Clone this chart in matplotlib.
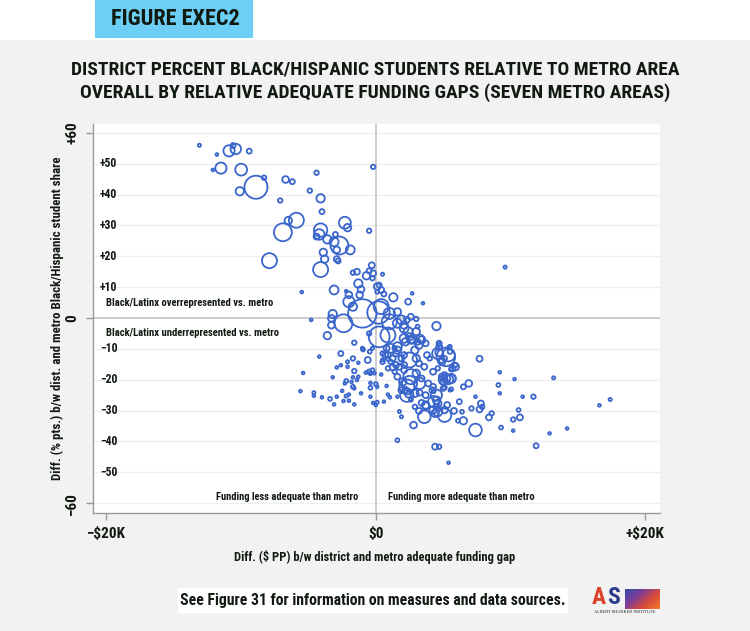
import numpy as np
import matplotlib
matplotlib.use("Agg")
import matplotlib.pyplot as plt
from matplotlib import font_manager
from matplotlib.patches import Rectangle

names = {f.name for f in font_manager.fontManager.ttflist}
FAM = None
for cand in ["Liberation Sans Narrow", "Roboto Condensed", "Open Sans Condensed", "Liberation Sans"]:
    if cand in names:
        FAM = cand
        break
FONT = [FAM, "DejaVu Sans"] if FAM else ["DejaVu Sans"]
plt.rcParams["font.family"] = FONT

# ---- data: (gap in $K per pupil, diff in % pts, enrollment weight) ----
gap_k = [
    -13.1, -10.9, -10.6, -10.4, -11.8, -9.4, -11.5, -12.1, -10.0, -8.9, -8.3, -10.1, -6.7, -6.2, -4.4, -4.9,
    -4.1, -7.1, -4.0, -5.9, -6.5, -6.9, -4.1, -4.2, -4.4, -3.6, -3.0, -2.3, -2.1, -2.7, -3.1, -2.9, -1.9, -3.9,
    -3.8, -2.9, -2.8, -7.9, -4.1, -0.2, -0.5, -5.5, -4.8, -3.1,
    -0.3, -0.7, -0.2, 0.5, -1.4, -1.7, -1.3, -1.1, -1.2, -2.0, -2.2, 0.1, 0.25, 0.4, 0.6, -2.0, -1.0, 0.2,
    -2.4, -1.7, -3.2, -3.3, -3.3, -0.5, -0.25, 0.1, 1.3, 2.7, 2.4, 3.5, 0.4, 1.0, 1.6, 1.0, 1.6, 0.25, 0.9,
    -0.5, 2.1, 2.3, 2.6, 2.4, 3.0, 3.0, 3.1, 3.3, 2.6, 2.1, 1.6, 3.2, 3.7, -3.6, -1.6, -1.0, -0.25,
    -4.2, -5.4, -5.6, -4.6, -4.6, -4.0, -3.4, -3.1, -2.9, -2.4, -2.5, -2.2, -2.0, -2.0, -1.6, -3.2, -2.6,
    -2.9, -2.6, -2.1, -2.1, -1.7, -1.3, -0.95, -0.6, -0.45, -1.6, -1.3, -1.7, -1.4, -2.2, -2.3, -1.8, -1.7,
    -1.6, -1.1, -0.5, -0.25, -0.4, -0.75, -0.1, -0.4, -0.4, 0.0, 0.1, -0.4, -0.2, 0.1, 0.0, 0.6, 0.8, 0.9,
    1.05, 1.6, 1.75, 1.9, 1.6, 0.4, 0.5, 0.5, 0.9, 1.5, 1.1, 1.5, 0.8, 1.4, 2.1, 2.1, 2.5, 2.2, 2.4, 2.8, 2.6,
    4.5, 4.7, 5.5, 5.4, 4.7, 4.9, 5.1, 5.7, 5.9, 7.7, 9.2, 10.3, 9.1, 9.2, 6.9, 6.5, 5.6, 5.4, 5.6, 5.0, 5.1,
    5.0, 4.3, 7.4, 7.8, 7.9, 7.7, 6.2, 7.1, 6.4, 5.8, 5.1, 5.1, 4.5, 4.5, 4.4, 3.6, 3.7, 8.6, 8.4, 6.5, 7.4,
    9.3, 10.6, 10.2, 10.7, 13.2, 11.7, 10.9, 10.2, 11.9, 12.9, 6.1, 4.4, 4.7, 16.6, 17.4, 14.2, 9.6, 5.4,
    1.9, 2.1, 2.5, 2.2, 2.75, 3.1, 3.4, 2.9, 1.1, 1.6, 1.9, 1.25, 0.9, 0.7, 0.5, 0.9, 1.25, 1.75, 2.1, 2.5,
    3.0, 3.2, 3.6, 3.8, 4.0, 4.6, 5.2, 4.9, 4.7, 4.7, 5.4, 5.5, 5.9, 5.6, 4.6, 4.25, 4.9, 5.2, 5.6, 5.0, 5.1,
    5.5, 4.25, 3.9, 3.4, 3.0, 2.6, 3.25, 2.3, 2.0, 1.6, 1.4, 1.9, 2.3, 2.9, 3.25, 3.7, 4.2, 4.5, 4.3, 4.6,
    4.6, 4.25, 5.3, 3.7, 3.4, 3.2, 2.9,
]
share_diff = [
    56.0, 54.2, 55.9, 54.8, 53.0, 54.1, 48.6, 48.0, 48.1, 42.4, 45.5, 41.1, 44.9, 44.2, 47.1, 41.3,
    38.8, 38.1, 34.5, 31.7, 31.6, 27.8, 28.5, 27.1, 26.4, 25.5, 27.1, 30.9, 29.3, 23.5, 24.7, 22.1, 22.1, 21.3,
    19.1, 19.1, 18.5, 18.6, 15.7, 49.0, 28.3, 8.4, -0.6, 9.1,
    17.1, 13.7, 14.5, 14.2, 15.0, 14.7, 11.2, 9.3, 7.5, 7.5, 8.7, 10.2, 10.7, 9.1, 7.8, 5.3, 1.5, 1.8,
    -1.7, 3.7, 1.3, -0.1, -2.3, 15.3, 12.9, 8.5, 6.7, 8.0, 5.3, 4.8, 3.7, 1.5, 2.0, -1.2, -1.7, -6.1, -5.5,
    -5.0, -2.3, -0.6, 0.4, -4.4, -4.4, -0.3, -2.8, -6.6, -7.1, -6.6, -9.3, -8.8, -8.2, -5.7, -8.0, -9.8, -9.8,
    -12.5, -17.8, -23.7, -24.2, -25.2, -25.7, -26.2, -28.0, -25.5, -26.9, -23.6, -25.3, -24.8, -26.8, -28.0, -19.2, -11.5,
    -16.0, -15.3, -14.2, -15.8, -13.1, -14.5, -10.2, -13.6, -10.9, -17.2, -19.0, -19.2, -20.1, -20.4, -21.2, -20.7, -22.3,
    -22.8, -24.4, -17.4, -16.9, -17.9, -17.7, -17.9, -21.0, -22.6, -21.4, -22.3, -25.5, -27.5, -27.3, -28.2, -27.1, -22.0, -24.8,
    -25.7, -25.5, -30.3, -32.0, -39.6, -18.3, -13.6, -11.5, -12.0, -11.5, -14.2, -15.2, -9.8, -9.8, -12.0, -15.2, -21.2, -23.3, -24.8, -34.7, -26.5,
    -2.6, -8.2, -9.3, -12.0, -11.2, -14.2, -13.1, -16.3, -15.2, -13.2, -17.6, -19.8, -21.7, -24.4, -21.2, -22.3, -23.1, -19.9, -19.6, -20.1, -18.5,
    -22.8, -23.7, -25.5, -27.7, -28.8, -29.6, -27.1, -29.3, -30.4, -30.1, -29.8, -31.5, -26.6, -28.8, -30.9, -32.0, -28.5, -30.9, -32.2, -33.3, -36.3,
    -35.5, -29.8, -32.9, -32.2, -19.4, -25.5, -25.5, -36.5, -41.4, -37.4, -33.3, -41.7, -41.7, -28.3, -26.4, -35.8, 16.5, -46.9,
    -0.6, -3.3, -6.1, -7.7, -7.1, -7.7, -7.1, -10.4, -9.8, -10.4, -13.1, -13.1, -13.1, -12.0, -14.2, -16.3, -16.0, -15.8, -16.9, -13.6,
    -13.1, -14.7, -15.8, -12.0, -13.1, -11.5, -12.6, -13.6, -9.3, -8.4, -9.5, -10.9, -15.8, -16.6, -16.3, -17.4, -19.0, -19.6, -19.6, -20.7, -22.5,
    -23.4, -22.3, -21.2, -19.6, -17.9, -19.0, -21.2, -22.3, -20.7, -19.0, -17.4, -23.4, -25.0, -24.4, -24.2, -25.0, -23.4, -25.0, -27.1, -27.7,
    -30.4, -29.8, -28.2, -28.2, -27.5, -30.1, -28.8,
]
enroll = [
    2, 25, 5, 22, 1.5, 5, 25, 1.5, 28, 106, 4, 14, 9, 5, 4, 4,
    14, 4, 5, 45, 11, 64, 36, 22, 7, 14, 5, 28, 11, 64, 16, 9, 16, 11,
    11, 7, 5, 45, 45, 4, 4, 1.5, 1.5, 16,
    7, 11, 7, 2, 7, 4, 14, 9, 9, 9, 1.5, 9, 5, 7, 5, 25, 161, 100,
    64, 14, 14, 9, 9, 5, 4, 3, 14, 1.5, 7, 1.5, 45, 25, 11, 45, 16, 86, 45,
    4, 11, 7, 7, 16, 11, 4, 3, 11, 11, 16, 16, 11, 7, 11, 4, 2, 2,
    1.5, 1.5, 1.5, 2, 1.5, 1.5, 3, 1.5, 1.5, 1.5, 1.5, 2, 1.5, 1.5, 1.5, 1.5, 5,
    1.5, 1.5, 2, 1.5, 4, 1.5, 3, 7, 3, 4, 1.5, 1.5, 1.5, 3, 1.5, 1.5, 3,
    1.5, 1.5, 4, 3, 3, 1.5, 1.5, 1.5, 3, 3, 1.5, 1.5, 1.5, 2, 1.5, 1.5, 1.5, 1.5,
    1.5, 1.5, 2, 2, 3, 1.5, 2, 4, 7, 7, 4, 7, 7, 4, 7, 7, 45, 7, 7, 9, 3,
    14, 5, 3, 32, 11, 9, 5, 7, 4, 7, 1.5, 1.5, 3, 1.5, 9, 5, 3, 18, 16, 16, 7,
    5, 3, 1.5, 7, 4, 7, 5, 4, 3, 7, 9, 36, 11, 7, 11, 32, 11, 4, 7, 11, 32,
    3, 3, 4, 7, 2, 4, 1.5, 1.5, 5, 1.5, 3, 7, 4, 1.5, 2, 1.5, 2, 1.5,
    16, 16, 11, 11, 11, 7, 11, 11, 16, 11, 7, 7, 4, 7, 4, 4, 7, 7, 7, 45,
    11, 7, 7, 7, 4, 25, 69, 7, 7, 4, 1.5, 4, 11, 4, 4, 7, 7, 16, 16, 7, 4,
    1.5, 7, 7, 7, 11, 45, 25, 45, 11, 7, 4, 7, 36, 11, 7, 7, 7, 25, 25, 11,
    16, 11, 7, 11, 7, 7, 4,
]

x_ticks = [-20, 0, 20]
x_ticklabels = ["\u2212$20K", "$0", "+$20K"]
y_major = [-60, 0, 60]
y_major_labels = ["\u221260", "0", "+60"]
y_inner = [50, 40, 30, 20, 10, -10, -20, -30, -40, -50]
y_inner_labels = ["+50", "+40", "+30", "+20", "+10", "\u221210", "\u221220", "\u221230", "\u221240", "\u221250"]

W, H = 750, 631
fig = plt.figure(figsize=(W / 100, H / 100), dpi=100)
fig.patch.set_facecolor("white")
TXT = "#111a11"

# gray background below header
fig.add_artist(Rectangle((0, 0), 1, 1 - 40 / H, transform=fig.transFigure,
                         facecolor="#f2f2f2", edgecolor="none", zorder=0))
# header box
fig.add_artist(Rectangle((95 / W, 1 - 38 / H), 158 / W, 38 / H, transform=fig.transFigure,
                         facecolor="#6dcff6", edgecolor="none", zorder=1))
fig.text(175 / W, 1 - 19 / H, "FIGURE EXEC2", ha="center", va="center",
         fontsize=16, fontweight="bold", color=TXT, zorder=2)

fig.text(375 / W, 1 - 70 / H, "DISTRICT PERCENT BLACK/HISPANIC STUDENTS RELATIVE TO METRO AREA",
         ha="center", va="center", fontsize=14, fontweight="bold", color=TXT)
fig.text(375 / W, 1 - 93 / H, "OVERALL BY RELATIVE ADEQUATE FUNDING GAPS (SEVEN METRO AREAS)",
         ha="center", va="center", fontsize=14, fontweight="bold", color=TXT)

ax = fig.add_axes([93 / W, 1 - 513 / H, 567 / W, 389 / H])
ax.set_facecolor("white")
ax.set_xlim(-21.0, 21.1)
ax.set_ylim(-63.2, 62.9)
for s in ["top", "right"]:
    ax.spines[s].set_visible(False)
for s in ["left", "bottom"]:
    ax.spines[s].set_color("#9a9a9a")
    ax.spines[s].set_linewidth(1.0)

for v in list(range(-60, 61, 10)):
    if v != 0:
        ax.axhline(v, color="#eeeeee", lw=0.9, zorder=0)
ax.axhline(0, color="#c4c4c4", lw=1.2, zorder=1)
ax.axvline(0, color="#c4c4c4", lw=1.2, zorder=1)

ax.set_xticks(x_ticks)
ax.set_xticklabels(x_ticklabels, fontsize=11, fontweight="bold", color=TXT)
ax.set_yticks(y_major)
ax.set_yticklabels(y_major_labels, fontsize=11, fontweight="bold", color=TXT,
                   rotation=90, va="center")
ax.tick_params(axis="both", length=5, color="#9a9a9a", width=1.0)
ax.tick_params(axis="x", pad=5)
ax.tick_params(axis="y", pad=5)

for v, lab in zip(y_inner, y_inner_labels):
    ax.text(-20.5, v, lab, ha="left", va="center", fontsize=8.5, fontweight="bold", color=TXT)

ax.scatter(gap_k, share_diff, s=np.array(enroll) * 2.6, facecolors="none",
           edgecolors="#3a66cc", linewidths=1.3, zorder=3)

ax.text(-20.0, 5, "Black/Latinx overrepresented vs. metro", ha="left", va="center",
        fontsize=7.7, fontweight="bold", color=TXT, zorder=4)
ax.text(-20.0, -4.8, "Black/Latinx underrepresented vs. metro", ha="left", va="center",
        fontsize=7.7, fontweight="bold", color=TXT, zorder=4)
ax.text(-1.3, -58, "Funding less adequate than metro", ha="right", va="center",
        fontsize=7.6, fontweight="bold", color=TXT, zorder=4)
ax.text(0.9, -58, "Funding more adequate than metro", ha="left", va="center",
        fontsize=7.6, fontweight="bold", color=TXT, zorder=4)

fig.text(375 / W, 1 - 557 / H, "Diff. ($ PP) b/w district and metro adequate funding gap",
         ha="center", va="center", fontsize=9, fontweight="bold", color=TXT)
fig.text(57 / W, 1 - 318 / H, "Diff. (% pts.) b/w dist. and metro Black/Hispanic student share",
         ha="center", va="center", rotation=90, fontsize=9.3, fontweight="bold", color=TXT)

# footer
fig.add_artist(Rectangle((178 / W, 1 - 613 / H), 390 / W, 25 / H, transform=fig.transFigure,
                         facecolor="white", edgecolor="none", zorder=1))
fig.text(373 / W, 1 - 601 / H, "See Figure 31 for information on measures and data sources.",
         ha="center", va="center", fontsize=11.3, fontweight="bold", color=TXT, zorder=2)

# logo
fig.text(599 / W, 1 - 598 / H, "A", ha="center", va="center", fontsize=17, fontweight="bold",
         color="#d9432b", zorder=3)
fig.text(614 / W, 1 - 598 / H, "S", ha="center", va="center", fontsize=17, fontweight="bold",
         color="#2c3c8c", zorder=3)
lax = fig.add_axes([625 / W, 1 - 609 / H, 35 / W, 20 / H])
gx, gy = np.meshgrid(np.linspace(0, 1, 40), np.linspace(0, 1, 20))
t = (gx * 0.6 + gy * 0.4)
cmap = matplotlib.colors.LinearSegmentedColormap.from_list("asi", ["#2d4fa8", "#7a3d9a", "#d94a3a", "#f07a2a"])
lax.imshow(t, cmap=cmap, aspect="auto", origin="upper")
lax.set_axis_off()
fig.text(625 / W, 1 - 612 / H, "ALBERT SHANKER INSTITUTE", ha="center", va="center",
         fontsize=3.2, color="#222222", zorder=3, family="Liberation Serif")

fig.savefig("out.png", dpi=100)
